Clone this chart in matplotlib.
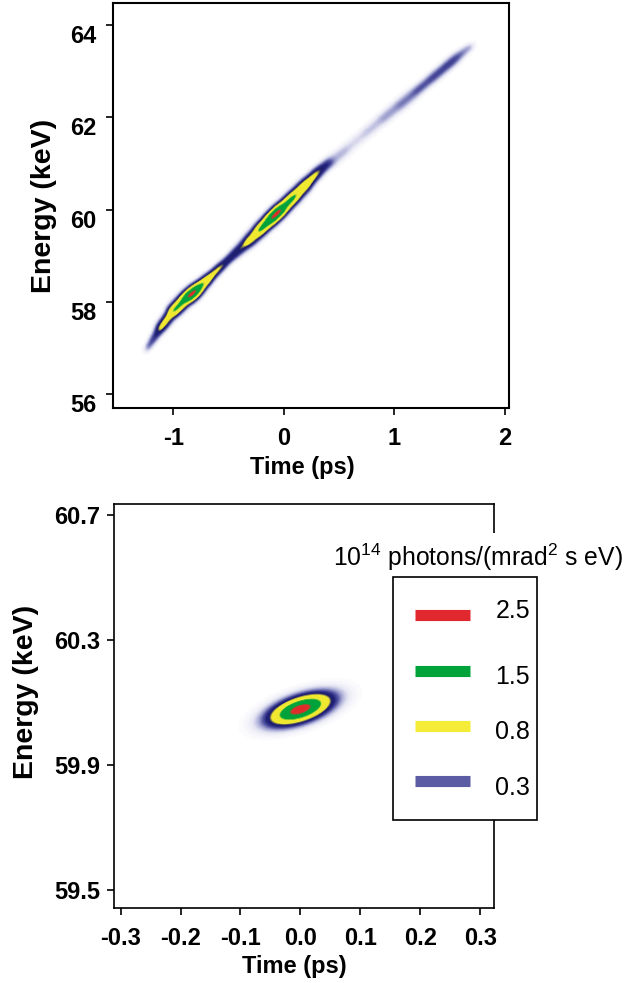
import numpy as np
import matplotlib
matplotlib.use("Agg")
import matplotlib.pyplot as plt
from matplotlib.colors import LinearSegmentedColormap
from matplotlib.patches import Rectangle
from matplotlib.lines import Line2D
from matplotlib.transforms import ScaledTranslation

# ---- top panel: chirped streak, knots along the ridge (time ps, energy keV, peak)
streak_time = [-1.22, -1.18, -1.08, -0.95, -0.82, -0.72, -0.62, -0.50, -0.40,
               -0.30, -0.18, -0.08, 0.05, 0.17, 0.28, 0.36, 0.50, 0.65, 0.80,
               0.95, 1.10, 1.25, 1.40, 1.52, 1.62, 1.67]
streak_energy = [57.05, 57.20, 57.55, 57.92, 58.20, 58.42, 58.65, 58.92, 59.14,
                 59.36, 59.65, 59.88, 60.18, 60.47, 60.74, 60.92, 61.18, 61.48,
                 61.78, 62.08, 62.37, 62.67, 62.97, 63.21, 63.41, 63.50]
streak_peak = [0.15, 0.50, 0.90, 1.60, 2.80, 1.30, 0.80, 0.55, 0.60,
               1.00, 1.70, 2.80, 1.70, 1.20, 0.90, 0.45, 0.16, 0.11, 0.14,
               0.20, 0.26, 0.32, 0.36, 0.38, 0.32, 0.10]
streak_width = [2.5, 3.0, 3.5, 4.0, 4.0, 3.5, 3.0, 3.0, 3.5, 4.0, 4.0, 4.0,
                4.0, 4.0, 3.5, 3.5, 4.0, 4.0, 4.0, 4.0, 4.0, 3.5, 3.5, 3.5,
                3.5, 2.5]  # half-thickness across the ridge, px

# ---- bottom panel: single compressed pulse
blob_time = 0.0
blob_energy = 60.078
blob_peak = 2.8
blob_sig_t = 0.029
blob_sig_e = 0.028
blob_rho = 0.55
halo_peak = 0.12

top_xticks = [-1, 0, 1, 2]
top_yticks = [56, 58, 60, 62, 64]
bot_xticks = [-0.3, -0.2, -0.1, 0.0, 0.1, 0.2, 0.3]
bot_yticks = [59.5, 59.9, 60.3, 60.7]

legend_levels = ["2.5", "1.5", "0.8", "0.3"]
legend_colors = ["#e1282e", "#00a33a", "#f4ec36", "#5b5ca3"]

plt.rcParams["font.family"] = ["Liberation Sans", "DejaVu Sans"]
plt.rcParams["mathtext.fontset"] = "custom"
plt.rcParams["mathtext.rm"] = "Liberation Sans"
plt.rcParams["mathtext.it"] = "Liberation Sans:italic"
plt.rcParams["mathtext.bf"] = "Liberation Sans:bold"

W, H = 637, 983
VMAX = 2.9
nodes = [(0.00, "#ffffff"), (0.08, "#e6e6f4"), (0.20, "#9a9ccd"),
         (0.30, "#5557a3"), (0.45, "#22227a"), (0.62, "#1e1e6a"),
         (0.76, "#f2ea30"), (1.40, "#eee832"), (1.55, "#00a23a"),
         (2.40, "#00a23a"), (2.58, "#e0302a"), (2.90, "#e02a2a")]
cmap = LinearSegmentedColormap.from_list(
    "photons", [(v / VMAX, c) for v, c in nodes])

fig = plt.figure(figsize=(W / 100, H / 100), dpi=100)


def px_axes(left, top, right, bottom):
    return fig.add_axes([left / W, 1 - bottom / H, (right - left) / W,
                         (bottom - top) / H])


ax1 = px_axes(113, 3, 509, 408)
ax2 = px_axes(114, 504, 494, 908)

# --- top image: ridge smoothed between the knots (kernel weights in pixels)
xlim1 = (-1.545, 2.036)
ylim1 = (55.70, 64.48)
sx = 396 / (xlim1[1] - xlim1[0])   # px per ps
sy = 405 / (ylim1[1] - ylim1[0])   # px per keV
tt, ee = np.meshgrid(np.linspace(*xlim1, 420), np.linspace(*ylim1, 430))
kx = np.array(streak_time) * sx
ky = np.array(streak_energy) * sy
dx, dy = np.gradient(kx), np.gradient(ky)
norm = np.hypot(dx, dy)
ux, uy = dx / norm, dy / norm
wsum = np.zeros_like(tt)
amp = np.zeros_like(tt)
acr = np.zeros_like(tt)
wid = np.zeros_like(tt)
for i in range(len(kx)):
    px = tt * sx - kx[i]
    py = ee * sy - ky[i]
    w = np.exp(-0.5 * (px ** 2 + py ** 2) / 7.0 ** 2) + 1e-300
    wsum += w
    amp += w * streak_peak[i]
    acr += w * (-px * uy[i] + py * ux[i])
    wid += w * streak_width[i]
amp /= wsum
acr /= wsum
wid /= wsum
# taper beyond the two ends of the streak
a0 = (tt * sx - kx[0]) * ux[0] + (ee * sy - ky[0]) * uy[0]
a1 = (tt * sx - kx[-1]) * ux[-1] + (ee * sy - ky[-1]) * uy[-1]
taper = (np.exp(-0.5 * (np.minimum(a0, 0) / 5.0) ** 2)
         * np.exp(-0.5 * (np.maximum(a1, 0) / 5.0) ** 2))
field1 = amp * np.exp(-0.5 * (acr / wid) ** 2) * taper
ax1.imshow(field1, extent=(*xlim1, *ylim1), origin="lower", cmap=cmap,
           vmin=0, vmax=VMAX, aspect="auto", interpolation="bilinear")
ax1.set_xlim(*xlim1)
ax1.set_ylim(*ylim1)
ax1.set_xticks(top_xticks)
ax1.set_xticklabels([str(v) for v in top_xticks])
ax1.set_yticks(top_yticks)

# --- bottom image
xlim2 = (-0.311, 0.323)
ylim2 = (59.442, 60.735)
tt2, ee2 = np.meshgrid(np.linspace(*xlim2, 400), np.linspace(*ylim2, 420))
zt = (tt2 - blob_time) / blob_sig_t
ze = (ee2 - blob_energy) / blob_sig_e
q = (zt ** 2 - 2 * blob_rho * zt * ze + ze ** 2) / (1 - blob_rho ** 2)
field2 = blob_peak * np.exp(-0.5 * q) + halo_peak * np.exp(-0.5 * q / 2.2)
ax2.imshow(field2, extent=(*xlim2, *ylim2), origin="lower", cmap=cmap,
           vmin=0, vmax=VMAX, aspect="auto", interpolation="bilinear")
ax2.set_xlim(*xlim2)
ax2.set_ylim(*ylim2)
ax2.set_xticks(bot_xticks)
ax2.set_xticklabels([f"{v:.1f}" for v in bot_xticks])
ax2.set_yticks(bot_yticks)
ax2.set_yticklabels([f"{v:.1f}" for v in bot_yticks])

for ax, lw in ((ax1, 1.5), (ax2, 1.2)):
    for s in ax.spines.values():
        s.set_linewidth(lw)
    ax.tick_params(direction="out", length=5, width=1.2, labelsize=17)
    for lab in ax.get_xticklabels() + ax.get_yticklabels():
        lab.set_fontweight("bold")
    ax.set_xlabel("Time (ps)", fontsize=17, fontweight="bold")
    ax.set_ylabel("Energy (keV)", fontsize=20.5, fontweight="bold")
    ax.xaxis.label.set_va("center")
    ax.yaxis.label.set_va("center")

ax1.tick_params(axis="y", pad=7)
ax1.tick_params(axis="x", pad=9)
ax2.tick_params(axis="y", pad=5)
ax2.tick_params(axis="x", pad=9)
# tick labels of the upper panel sit a little below their ticks
for lab in ax1.get_yticklabels():
    lab.set_transform(lab.get_transform()
                      + ScaledTranslation(0, -0.09, fig.dpi_scale_trans))

ax1.xaxis.set_label_coords(0.477, -0.148)
ax1.yaxis.set_label_coords(-0.174, 0.5)
ax2.xaxis.set_label_coords(0.475, -0.146)
ax2.yaxis.set_label_coords(-0.232, 0.535)

# --- legend (drawn in figure pixels, overlapping the right spine)
fig.add_artist(Rectangle((313 / W, 1 - 578 / H), (W - 313) / W, 45 / H,
                         transform=fig.transFigure, facecolor="white",
                         edgecolor="none", zorder=3))
fig.text(478 / W, 1 - 557 / H, r"10$^{14}$ photons/(mrad$^{2}$ s eV)",
         ha="center", va="center", fontsize=17.8, zorder=4)
fig.add_artist(Rectangle((393 / W, 1 - 820 / H), 144 / W, 243 / H,
                         transform=fig.transFigure, facecolor="white",
                         edgecolor="black", linewidth=1.2, zorder=3))
line_y = [615, 671, 726, 781]
text_y = [611, 677, 732, 788]
for lev, col, ly, ty in zip(legend_levels, legend_colors, line_y, text_y):
    fig.add_artist(Line2D([415 / W, 470 / W], [1 - ly / H, 1 - ly / H],
                          transform=fig.transFigure, color=col, linewidth=8,
                          solid_capstyle="butt", zorder=4))
    fig.text(530 / W, 1 - ty / H, lev, ha="right", va="center",
             fontsize=18, zorder=4)

fig.savefig("out.png", dpi=100)
